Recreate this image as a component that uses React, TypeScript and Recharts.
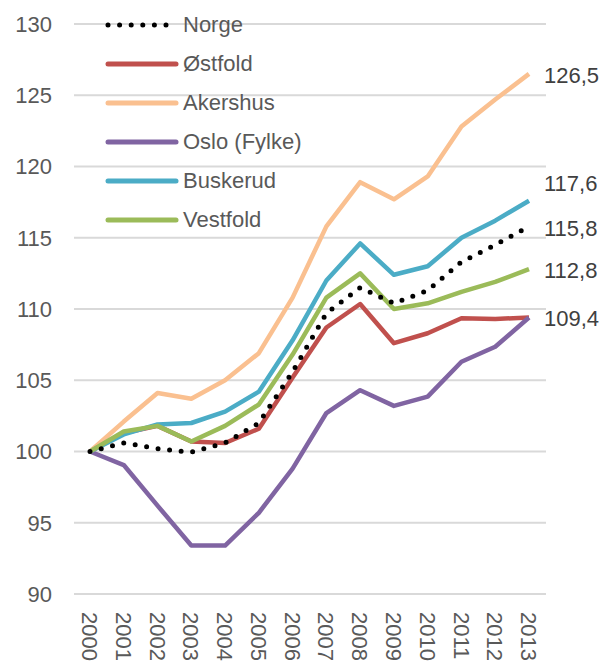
import { CartesianGrid, Legend, Line, LineChart, XAxis, YAxis } from "recharts"

const years = ['2000', '2001', '2002', '2003', '2004', '2005', '2006', '2007', '2008', '2009', '2010', '2011', '2012', '2013']

const norge = [100, 100.6, 100.2, 99.95, 100.6, 102.0, 105.6, 109.7, 111.5, 110.4, 111.3, 113.3, 114.5, 115.8]
const ostfold = [100, 101.3, 101.8, 100.7, 100.6, 101.6, 105.2, 108.7, 110.35, 107.6, 108.3, 109.35, 109.3, 109.4]
const akershus = [100, 102.1, 104.1, 103.7, 105.0, 106.9, 110.8, 115.8, 118.9, 117.7, 119.3, 122.8, 124.7, 126.5]
const oslo = [100, 99.05, 96.2, 93.4, 93.4, 95.7, 98.8, 102.7, 104.3, 103.2, 103.85, 106.3, 107.35, 109.4]
const buskerud = [100, 101.2, 101.9, 102.0, 102.8, 104.2, 107.8, 112.0, 114.6, 112.4, 113.0, 115.0, 116.2, 117.6]
const vestfold = [100, 101.4, 101.8, 100.7, 101.8, 103.3, 106.8, 110.8, 112.5, 110.0, 110.4, 111.2, 111.9, 112.8]

const yTicks = [90, 95, 100, 105, 110, 115, 120, 125, 130]

const series = [
    { key: 'Norge', values: norge, color: '#000000', dotted: true, endLabel: true, labelDy: 2 },
    { key: 'Østfold', values: ostfold, color: '#C0504D', dotted: false, endLabel: false, labelDy: 0 },
    { key: 'Akershus', values: akershus, color: '#FAC090', dotted: false, endLabel: true, labelDy: 1 },
    { key: 'Oslo (Fylke)', values: oslo, color: '#8064A2', dotted: false, endLabel: true, labelDy: 1 },
    { key: 'Buskerud', values: buskerud, color: '#4BACC6', dotted: false, endLabel: true, labelDy: -18 },
    { key: 'Vestfold', values: vestfold, color: '#9BBB59', dotted: false, endLabel: true, labelDy: 1 },
]

const data = years.map((year, i) => {
    const row: Record<string, string | number> = { year }
    series.forEach(s => { row[s.key] = s.values[i] })
    return row
})

const FONT = 'Liberation Sans, Arial, sans-serif'
const last = years.length - 1

const YearTick = ({ x, y, payload }: any) => (
    <text
        transform={`translate(${x},${y}) rotate(90)`}
        textAnchor="start"
        dy="0.36em"
        fontSize={22}
        fontFamily={FONT}
        fill="#595959"
    >
        {payload.value}
    </text>
)

const endLabel = (dy: number) => (props: any) => {
    const { x, y, value, index } = props
    if (index !== last) return null
    return (
        <text x={x + 15} y={y + dy} dy="0.36em" fontSize={22} fontFamily={FONT} fill="#404040">
            {Number(value).toFixed(1).replace('.', ',')}
        </text>
    )
}

const LegendBox = () => (
    <div style={{ fontFamily: FONT, fontSize: 22, color: '#595959' }}>
        {series.map(s => (
            <div key={s.key} style={{ display: 'flex', alignItems: 'center', height: 39 }}>
                <svg width={74} height={10} style={{ marginRight: 4 }}>
                    <line
                        x1={3}
                        x2={71}
                        y1={5}
                        y2={5}
                        stroke={s.color}
                        strokeWidth={5}
                        strokeLinecap="round"
                        strokeDasharray={s.dotted ? '0 11.6' : undefined}
                    />
                </svg>
                <span>{s.key}</span>
            </div>
        ))}
    </div>
)

// Norge drawn last so the dots stay visible
const drawOrder = [...series.filter(s => !s.dotted), ...series.filter(s => s.dotted)]

const App = () => {
    return (
        <div style={{ position: 'absolute', left: 0, top: 0, width: 606, height: 661, background: '#fff' }}>
            <LineChart width={606} height={661} data={data} margin={{ top: 24, right: 60, bottom: 0, left: 0 }}>
                <CartesianGrid vertical={false} stroke="#D9D9D9" strokeWidth={2} />
                <XAxis
                    dataKey="year"
                    axisLine={false}
                    tickLine={false}
                    height={67}
                    padding={{ left: 16, right: 17 }}
                    tick={<YearTick />}
                    tickMargin={0}
                    tickSize={18}
                    interval={0}
                />
                <YAxis
                    domain={[90, 130]}
                    ticks={yTicks}
                    axisLine={false}
                    tickLine={false}
                    width={74}
                    tickSize={0}
                    tickMargin={22}
                    tick={{ fontSize: 22, fontFamily: FONT, fill: '#595959' }}
                />
                <Legend
                    verticalAlign="middle"
                    align="center"
                    layout="vertical"
                    content={<LegendBox />}
                    wrapperStyle={{ position: 'absolute', top: 5, left: 105, width: 260 }}
                />
                {drawOrder.map(s => (
                    <Line
                        key={s.key}
                        dataKey={s.key}
                        name={s.key}
                        type="linear"
                        stroke={s.color}
                        strokeWidth={s.dotted ? 5 : 4.5}
                        strokeLinecap={s.dotted ? 'round' : 'butt'}
                        strokeLinejoin="round"
                        strokeDasharray={s.dotted ? '0 11.6' : undefined}
                        dot={false}
                        activeDot={false}
                        isAnimationActive={false}
                        label={s.endLabel ? endLabel(s.labelDy) : false}
                    />
                ))}
            </LineChart>
        </div>
    )
}

export default App
